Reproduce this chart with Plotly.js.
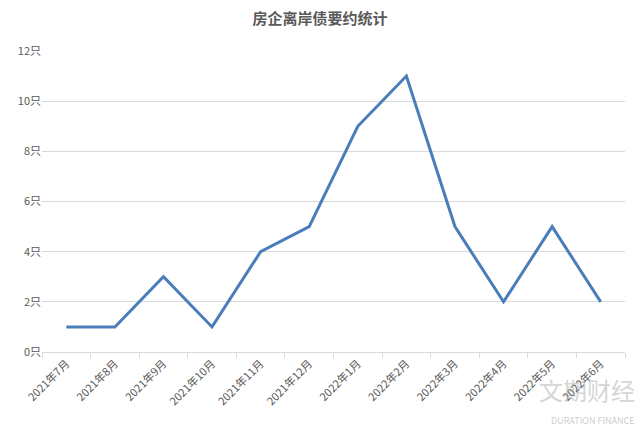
<!DOCTYPE html>
<html>
<head>
<meta charset="utf-8">
<script src="https://cdn.plot.ly/plotly-3.0.1.min.js"></script>
<style>html,body{margin:0;padding:0;background:#fff;}#chart{width:640px;height:426px;}</style>
</head>
<body>
<div id="chart"></div>
<script>
const months = ["2021年7月","2021年8月","2021年9月","2021年10月","2021年11月","2021年12月","2022年1月","2022年2月","2022年3月","2022年4月","2022年5月","2022年6月"];
const defaults = [1,1,3,1,4,5,9,11,5,2,5,2];
const yTicks = [0,2,4,6,8,10,12];
const yTickLabels = ["0只","2只","4只","6只","8只","10只","12只"];

const trace = {
  x: months, y: defaults, type: "scatter", mode: "lines",
  line: {color: "#4a7ebb", width: 3}, hoverinfo: "skip"
};
const layout = {
  width: 640, height: 426,
  margin: {l: 42, r: 15, t: 51, b: 74},
  paper_bgcolor: "#fff", plot_bgcolor: "#fff",
  font: {family: "Noto Sans CJK SC, sans-serif", color: "#595959", size: 11},
  title: {text: "<b>房企离岸债要约统计</b>", x: 0.5, xanchor: "center", y: 0.955, yanchor: "middle",
          font: {family: "Noto Sans CJK SC, serif", size: 15, color: "#595959"}},
  showlegend: false,
  xaxis: {
    type: "category", tickangle: -45, tickson: "boundaries", ticks: "outside", ticklen: 5,
    tickcolor: "#d9d9d9", showline: true, linecolor: "#d9d9d9", linewidth: 1,
    showgrid: false, tickfont: {size: 11, color: "#595959"}, range: [-0.5, 11.5]
  },
  yaxis: {
    range: [0, 12], tickvals: yTicks, ticktext: yTickLabels, showgrid: true,
    gridcolor: "#d9d9d9", zeroline: false, showline: false, ticks: "",
    tickfont: {size: 11, color: "#595959"}
  },
  annotations: [
    {text: "文期财经", xref: "paper", yref: "paper", x: 1.02, y: -0.19, xanchor: "right", yanchor: "bottom",
     showarrow: false, font: {size: 24, color: "rgba(160,160,160,0.45)"}},
    {text: "DURATION FINANCE", xref: "paper", yref: "paper", x: 1.02, y: -0.2, xanchor: "right", yanchor: "top",
     showarrow: false, font: {size: 9, color: "rgba(160,160,160,0.55)"}}
  ]
};
Plotly.newPlot("chart", [trace], layout, {displayModeBar: false, staticPlot: true});
</script>
</body>
</html>
